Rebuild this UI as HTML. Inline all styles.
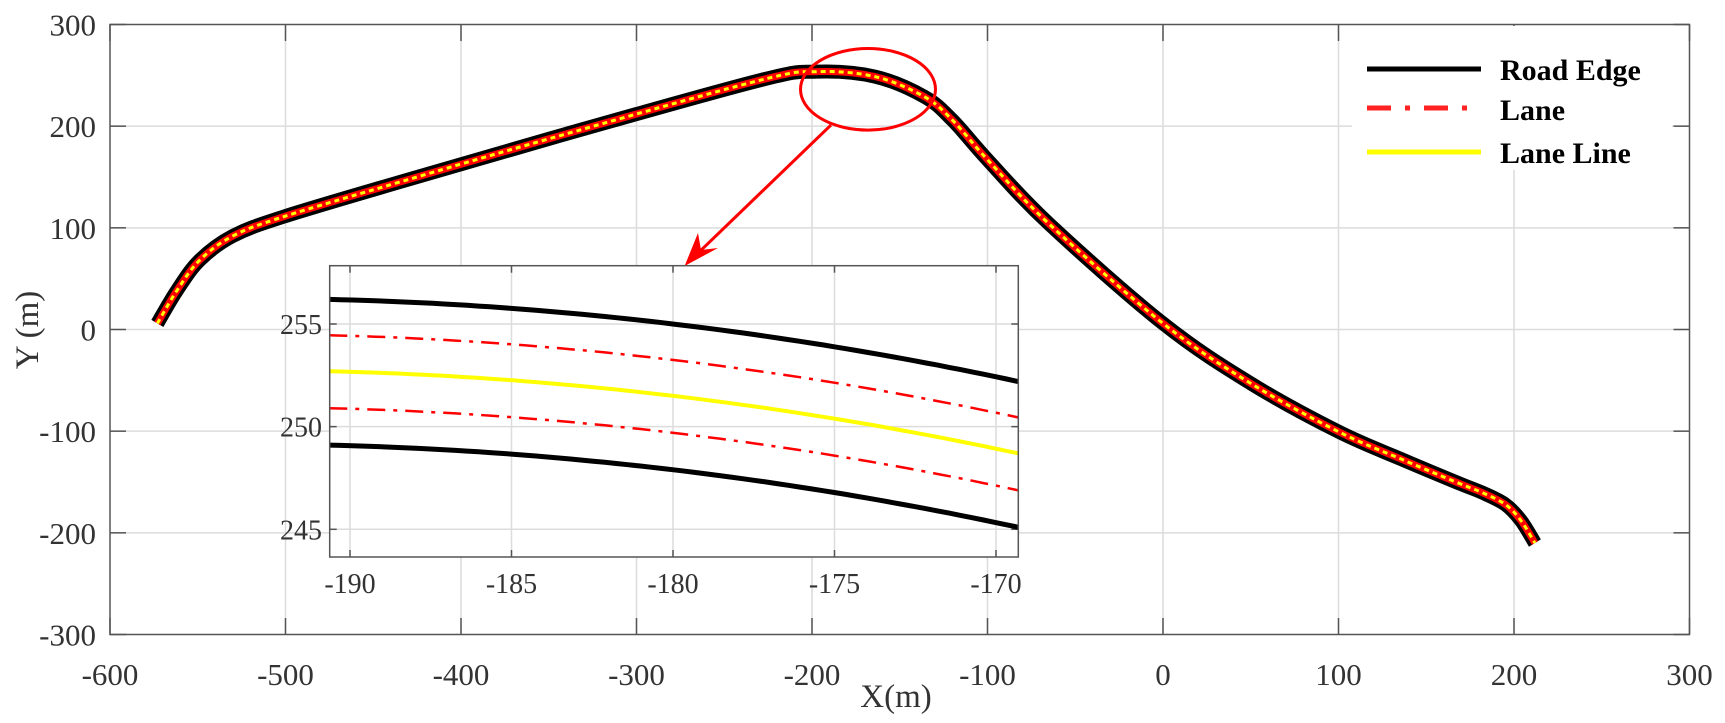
<!DOCTYPE html>
<html><head><meta charset="utf-8"><style>
html,body{margin:0;padding:0;background:#fff;}
svg{display:block;}
text{font-family:"Liberation Serif",serif;fill:#333;}
</style></head><body>
<svg id="s" width="1725" height="723" xmlns="http://www.w3.org/2000/svg"></svg>
<script>
const s=document.getElementById('s');
let h='';
const RX=1689.5;
const X=x=>110+(x+600)*1.755, Y=y=>329.5-y*1.01667;
for(let x=-500;x<=200;x+=100)h+=`<line x1="${X(x)}" y1="24.5" x2="${X(x)}" y2="634.5" stroke="#dcdcdc" stroke-width="1.5"/>`;
for(let y=-200;y<=200;y+=100)h+=`<line x1="110" y1="${Y(y)}" x2="${RX}" y2="${Y(y)}" stroke="#dcdcdc" stroke-width="1.5"/>`;
for(let x=-600;x<=300;x+=100){h+=`<line x1="${X(x)}" y1="24.5" x2="${X(x)}" y2="41" stroke="#555" stroke-width="1.5"/><line x1="${X(x)}" y1="634.5" x2="${X(x)}" y2="618" stroke="#555" stroke-width="1.5"/>`;
 h+=`<text x="${X(x)}" y="685" font-size="31" text-anchor="middle">${x}</text>`;}
for(let y=-300;y<=300;y+=100){h+=`<line x1="110" y1="${Y(y)}" x2="126" y2="${Y(y)}" stroke="#555" stroke-width="1.5"/><line x1="${RX}" y1="${Y(y)}" x2="${RX-16}" y2="${Y(y)}" stroke="#555" stroke-width="1.5"/>`;
 h+=`<text x="96" y="${Y(y)+11}" font-size="31" text-anchor="end">${y}</text>`;}
h+=`<rect x="110" y="24.5" width="${RX-110}" height="610" fill="none" stroke="#555" stroke-width="1.5"/>`;
h+=`<text x="896" y="707" font-size="33" text-anchor="middle">X(m)</text>`;
h+=`<text transform="translate(38,330) rotate(-90)" font-size="33" text-anchor="middle">Y (m)</text>`;
const P=[[-573,6],[-562,38],[-549,68],[-530,92],[-501,111],[-435,145],[-349,188],[-230,245],[-197,253.6],[-164,248.7],[-136,229],[-120,206],[-100,167],[-65,104],[0,6],[50,-53],[100,-100.5],[137,-128.4],[168.7,-151.3],[182,-160.5],[195,-172],[204,-188],[211.9,-210]].map(p=>[X(p[0]),Y(p[1])]);
function cr(pts){let d=`M${pts[0][0]},${pts[0][1]}`;for(let i=0;i<pts.length-1;i++){const p0=pts[Math.max(0,i-1)],p1=pts[i],p2=pts[i+1],p3=pts[Math.min(pts.length-1,i+2)];
d+=` C${p1[0]+(p2[0]-p0[0])/6},${p1[1]+(p2[1]-p0[1])/6} ${p2[0]-(p3[0]-p1[0])/6},${p2[1]-(p3[1]-p1[1])/6} ${p2[0]},${p2[1]}`;}return d;}
const d=cr(P);
h+=`<path d="${d}" fill="none" stroke="#000" stroke-width="14"/>`;
h+=`<path d="${d}" fill="none" stroke="#f00" stroke-width="7"/>`;
h+=`<path d="${d}" fill="none" stroke="#ff0" stroke-width="3" stroke-dasharray="5 4"/>`;
h+=`<rect x="1352" y="26" width="320" height="144" fill="#fff"/>`;
h+=`<line x1="1367" y1="69" x2="1481" y2="69" stroke="#000" stroke-width="5"/>`;
h+=`<line x1="1367" y1="108" x2="1481" y2="108" stroke="#f22" stroke-width="5" stroke-dasharray="24 14 5 14"/>`;
h+=`<line x1="1367" y1="152" x2="1481" y2="152" stroke="#ff0" stroke-width="5"/>`;
h+=`<text x="1500" y="80" font-size="30" font-weight="bold" style="fill:#000">Road Edge</text>`;
h+=`<text x="1500" y="120" font-size="30" font-weight="bold" style="fill:#000">Lane</text>`;
h+=`<text x="1500" y="163" font-size="30" font-weight="bold" style="fill:#000">Lane Line</text>`;
h+=`<ellipse cx="868" cy="89.3" rx="67.5" ry="40.8" fill="none" stroke="#f00" stroke-width="3"/>`;
h+=`<line x1="831" y1="125" x2="694" y2="257" stroke="#f00" stroke-width="3"/>`;
h+=`<polygon points="684.6,266 698,233 701,250 718,248" fill="#f00"/>`;
const L=329.7,T=265.7,R=1018.3,B=557;
const IX=x=>350+(x+190)*32.3, IY=y=>324+(255-y)*20.53;
h+=`<rect x="${L}" y="${T}" width="${R-L}" height="${B-T}" fill="#fff"/>`;
for(let x=-190;x<=-170;x+=5)h+=`<line x1="${IX(x)}" y1="${T}" x2="${IX(x)}" y2="${B}" stroke="#dcdcdc" stroke-width="1.5"/><line x1="${IX(x)}" y1="${T}" x2="${IX(x)}" y2="${T+7}" stroke="#555" stroke-width="1.5"/><line x1="${IX(x)}" y1="${B}" x2="${IX(x)}" y2="${B-7}" stroke="#555" stroke-width="1.5"/><text x="${IX(x)}" y="593" font-size="28" text-anchor="middle">${x}</text>`;
for(let y=245;y<=255;y+=5)h+=`<line x1="${L}" y1="${IY(y)}" x2="${R}" y2="${IY(y)}" stroke="#dcdcdc" stroke-width="1.5"/><line x1="${L}" y1="${IY(y)}" x2="${L+7}" y2="${IY(y)}" stroke="#555" stroke-width="1.5"/><line x1="${R}" y1="${IY(y)}" x2="${R-7}" y2="${IY(y)}" stroke="#555" stroke-width="1.5"/><text x="322" y="${IY(y)+10}" font-size="28" text-anchor="end">${y}</text>`;
function ip(off){let d='';for(let i=0;i<=60;i++){const x=-190.64+i*(21.32/60),t=x+190.64;const y=252.7-0.0383*t-0.007*t*t+off;d+=(i?'L':'M')+IX(x).toFixed(1)+','+IY(y).toFixed(1);}return d;}
h+=`<path d="${ip(3.5)}" fill="none" stroke="#000" stroke-width="5"/>`;
h+=`<path d="${ip(-3.6)}" fill="none" stroke="#000" stroke-width="5"/>`;
h+=`<path d="${ip(1.75)}" fill="none" stroke="#f00" stroke-width="2.5" stroke-dasharray="18 8 4 8"/>`;
h+=`<path d="${ip(-1.8)}" fill="none" stroke="#f00" stroke-width="2.5" stroke-dasharray="18 8 4 8"/>`;
h+=`<path d="${ip(0)}" fill="none" stroke="#ff0" stroke-width="4"/>`;
h+=`<rect x="${L}" y="${T}" width="${R-L}" height="${B-T}" fill="none" stroke="#555" stroke-width="1.5"/>`;
s.innerHTML=h;
</script>
</body></html>
